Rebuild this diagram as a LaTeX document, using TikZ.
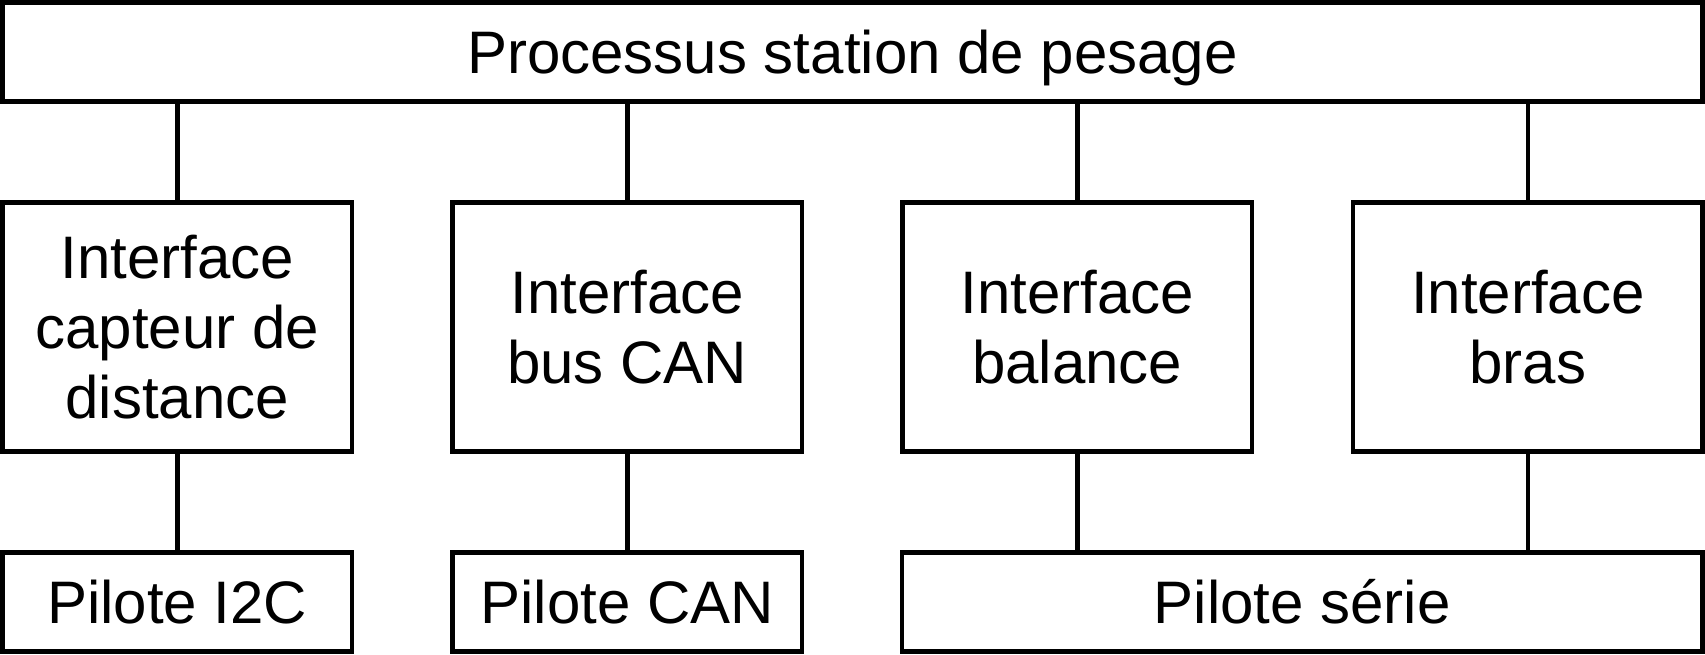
\documentclass[tikz,border=0pt]{standalone}
\usepackage{fontspec}
\setmainfont{Liberation Sans}
\tikzset{
  bloc/.style={draw, line width=4.5pt, inner sep=0pt, outer sep=0pt, align=center, font=\fontsize{60}{70}\selectfont},
  lien/.style={line width=4.5pt}
}
\begin{document}
\begin{tikzpicture}[x=1pt,y=-1pt]
\useasboundingbox (0,0) rectangle (1705,655);
%Shape: Rectangle [processus]
\node[bloc, minimum width=1700pt, minimum height=99pt, text height=44pt, text depth=0pt] (proc) at (852.5,52) {Processus station de pesage};
%Shape: Rectangle [interfaces]
\node[bloc, minimum width=349.5pt, minimum height=249pt] (itfdist) at (177.25,327) {Interface\\capteur de\\distance};
\node[bloc, minimum width=349.5pt, minimum height=249pt] (itfcan) at (627.25,327) {Interface\\bus CAN};
\node[bloc, minimum width=349.5pt, minimum height=249pt] (itfbal) at (1077.25,327) {Interface\\balance};
\node[bloc, minimum width=349.5pt, minimum height=249pt] (itfbras) at (1527.75,327) {Interface\\bras};
%Shape: Rectangle [pilotes]
\node[bloc, minimum width=349.5pt, minimum height=99pt] (pili2c) at (177.25,602) {Pilote I2C};
\node[bloc, minimum width=349.5pt, minimum height=99pt] (pilcan) at (627.25,602) {Pilote CAN};
\node[bloc, minimum width=800.5pt, minimum height=99pt] (pilserie) at (1302.25,602) {Pilote série};

%Straight Lines
\draw[lien] (itfdist.north) -- (itfdist.north |- proc.south);
\draw[lien] (itfcan.north) -- (itfcan.north |- proc.south);
\draw[lien] (itfbal.north) -- (itfbal.north |- proc.south);
\draw[lien] (itfbras.north) -- (itfbras.north |- proc.south);
\draw[lien] (itfdist.south) -- (pili2c.north);
\draw[lien] (itfcan.south) -- (pilcan.north);
\draw[lien] (itfbal.south) -- (itfbal.south |- pilserie.north);
\draw[lien] (itfbras.south) -- (itfbras.south |- pilserie.north);
\end{tikzpicture}
\end{document}
